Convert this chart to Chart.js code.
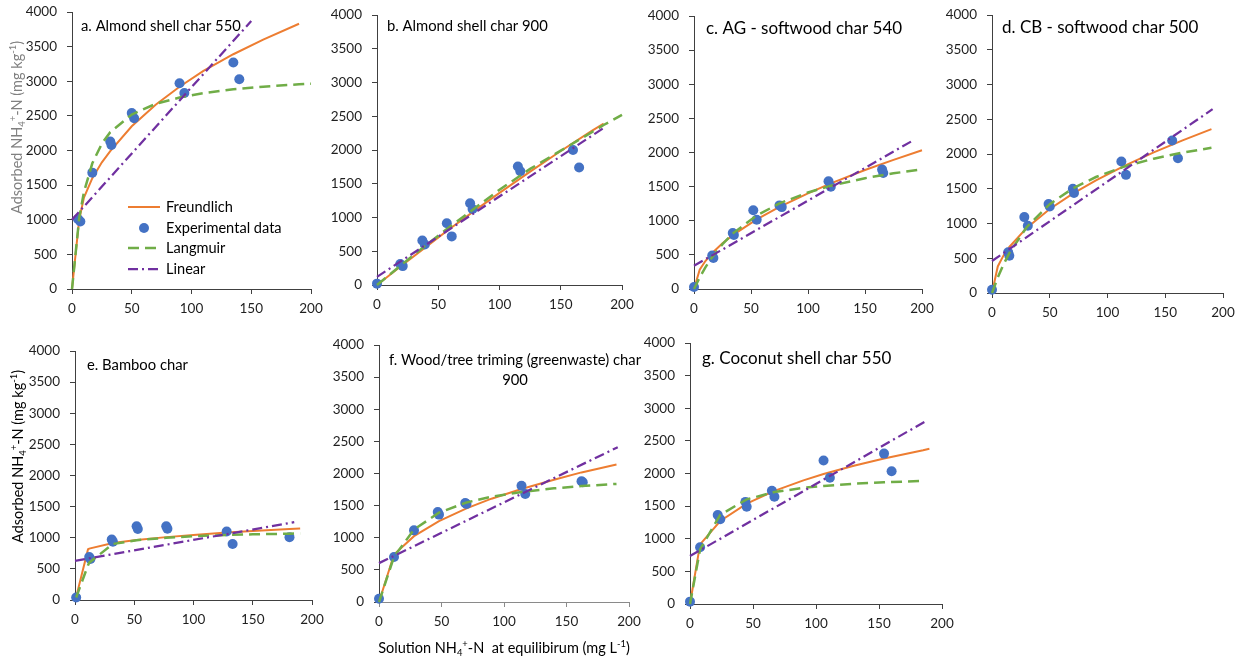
<!DOCTYPE html>
<html>
<head>
<meta charset="utf-8">
<script src="https://cdn.jsdelivr.net/npm/chart.js@4.4.1/dist/chart.umd.min.js"></script>
<style>
  html, body { margin: 0; padding: 0; background: #fff; }
  body { width: 1247px; height: 662px; position: relative; overflow: hidden; }
  canvas { position: absolute; }
</style>
</head>
<body>
<script>
// ---- a. Almond shell char 550 ----
const aExpX = [5, 7, 17, 32, 33, 50, 52, 90, 94, 135, 140];
const aExpY = [1010, 975, 1680, 2130, 2080, 2540, 2465, 2970, 2830, 3270, 3030];
const aFitX = [0, 6, 10, 17, 25, 32, 50, 70, 90, 110, 135, 160, 190, 200];
const aFreundlich = [0, 1000, 1320, 1600, 1830, 1990, 2350, 2660, 2920, 3150, 3390, 3600, 3830, null];
const aLangmuir = [0, 1022, 1400, 1815, 2100, 2265, 2520, 2673, 2765, 2829, 2883, 2922, 2956, 2965];
const aLinX = [0, 150];
const aLinear = [1000, 3870];

// ---- b. Almond shell char 900 ----
const bExpX = [0, 19, 21, 37, 39, 57, 61, 76, 78, 115, 117, 160, 165];
const bExpY = [20, 310, 280, 660, 600, 915, 720, 1210, 1125, 1755, 1685, 2000, 1740];
const bFitX = [0, 20, 40, 60, 80, 100, 125, 150, 175, 185, 200];
const bFreundlich = [0, 285, 565, 840, 1105, 1365, 1680, 1985, 2280, 2390, null];
const bLangmuir = [0, 300, 590, 870, 1140, 1410, 1720, 1990, 2260, 2370, 2520];
const bLinX = [0, 185];
const bLinear = [120, 2325];

// ---- c. AG - softwood char 540 ----
const cExpX = [0, 16, 17, 34, 35, 52, 55, 75, 77, 118, 120, 165, 166];
const cExpY = [30, 490, 455, 820, 790, 1155, 1015, 1225, 1200, 1580, 1500, 1750, 1700];
const cFitX = [0, 5, 10, 16, 25, 35, 55, 75, 100, 120, 150, 175, 200];
const cFreundlich = [0, 283, 410, 527, 670, 800, 1020, 1204, 1400, 1548, 1743, 1892, 2032];
const cLangmuir = [0, 170, 317, 469, 657, 826, 1077, 1254, 1415, 1512, 1624, 1695, 1752];
const cLinX = [0, 193];
const cLinear = [340, 2185];

// ---- d. CB - softwood char 500 ----
const dExpX = [0, 14, 15, 28, 31, 49, 50, 70, 71, 112, 116, 156, 161];
const dExpY = [48, 585, 535, 1092, 968, 1280, 1245, 1500, 1440, 1892, 1700, 2194, 1940];
const dFitX = [0, 5, 10, 15, 30, 50, 70, 90, 115, 140, 165, 190];
const dFreundlich = [0, 382, 541, 662, 937, 1209, 1431, 1622, 1834, 2023, 2197, 2357];
const dLangmuir = [0, 223, 412, 574, 947, 1279, 1505, 1669, 1821, 1933, 2020, 2089];
const dLinX = [0, 191];
const dLinear = [460, 2645];

// ---- e. Bamboo char ----
const eExpX = [1, 12, 13, 31, 32, 52, 53, 77, 78, 128, 133, 181];
const eExpY = [40, 690, 660, 970, 935, 1185, 1140, 1185, 1145, 1100, 900, 1010];
const eFitX = [1, 11, 12, 32, 52, 77, 100, 128, 150, 181, 190];
const eFreundlich = [50, 815, 825, 915, 965, 1010, 1045, 1085, 1110, 1140, 1150];
const eLangmuir = [40, 560, 600, 900, 960, 1000, 1025, 1045, 1055, 1065, 1070];
const eLinX = [0, 185];
const eLinear = [630, 1250];

// ---- f. Wood/tree triming (greenwaste) char 900 ----
const fExpX = [0, 12, 28, 47, 48, 69, 70, 114, 117, 162, 163];
const fExpY = [50, 700, 1115, 1400, 1360, 1540, 1525, 1810, 1680, 1880, 1865];
const fFitX = [0, 12, 28, 48, 70, 90, 114, 140, 162, 190];
const fFreundlich = [0, 739, 1025, 1260, 1457, 1608, 1758, 1902, 2017, 2139];
const fLangmuir = [0, 703, 1128, 1390, 1549, 1639, 1713, 1769, 1804, 1838];
const fLinX = [0, 191];
const fLinear = [605, 2410];

// ---- g. Coconut shell char 550 ----
const gExpX = [0, 8, 22, 24, 44, 45, 65, 67, 106, 111, 154, 160];
const gExpY = [36, 870, 1365, 1300, 1565, 1490, 1735, 1645, 2200, 1935, 2305, 2035];
const gFitX = [0, 8, 24, 45, 67, 90, 106, 130, 154, 185, 190];
const gFreundlich = [0, 913, 1272, 1538, 1734, 1895, 1992, 2118, 2230, 2357, 2380];
const gLangmuir = [0, 837, 1367, 1604, 1715, 1780, 1810, 1843, 1865, 1887, null];
const gLinX = [0, 186];
const gLinear = [735, 2790];

// axis ticks
const xTickStep = 50, xMax = 200;
const yTickStep = 500, yMax = 4000;

const FONT = "Lato, 'Open Sans', sans-serif";
const C_FRE = '#ED7D31', C_EXP = '#4472C4', C_LAN = '#70AD47', C_LIN = '#7030A0';
const AXIS = '#404040', TICK = '#1f1f1f';
const DASH_LAN = [11, 6], DASH_LIN = [10, 4, 2, 4];
const SMALL = 14.8, BIG = 17, TICK_SIZE = 13.5;

const Y_TITLE = [
  {t: 'Adsorbed NH'}, {t: '4', s: 'sub'}, {t: '+', s: 'sup'},
  {t: '-N (mg kg'}, {t: '-1', s: 'sup'}, {t: ')'}
];
const X_TITLE = [
  {t: 'Solution NH'}, {t: '4', s: 'sub'}, {t: '+', s: 'sup'},
  {t: '-N  at equilibirum (mg L'}, {t: '-1', s: 'sup'}, {t: ')'}
];

Chart.defaults.font.family = FONT;

const M = {left: 72, top: 14, right: 28, bottom: 40};
const YW = 50, XH = 30;

const panels = [
  {box: [72, 12, 311, 289], expX: aExpX, expY: aExpY, fitX: aFitX, fre: aFreundlich, lan: aLangmuir, linX: aLinX, lin: aLinear,
   title: ['a. Almond shell char 550'], tsize: SMALL, tdx: 9, tdy: 14,
   yTitle: {dx: -55, dy: 115.5, color: '#808080'}, legend: true},
  {box: [377, 15, 622, 285], expX: bExpX, expY: bExpY, fitX: bFitX, fre: bFreundlich, lan: bLangmuir, linX: bLinX, lin: bLinear,
   title: ['b. Almond shell char 900'], tsize: SMALL, tdx: 10, tdy: 11},
  {box: [694, 16, 922, 289], expX: cExpX, expY: cExpY, fitX: cFitX, fre: cFreundlich, lan: cLangmuir, linX: cLinX, lin: cLinear,
   title: ['c. AG - softwood char 540'], tsize: BIG, tdx: 12, tdy: 12.3},
  {box: [992, 15, 1223, 293], expX: dExpX, expY: dExpY, fitX: dFitX, fre: dFreundlich, lan: dLangmuir, linX: dLinX, lin: dLinear,
   title: ['d. CB - softwood char 500'], tsize: BIG, tdx: 10, tdy: 12.3},
  {box: [75, 351, 312, 600], expX: eExpX, expY: eExpY, fitX: eFitX, fre: eFreundlich, lan: eLangmuir, linX: eLinX, lin: eLinear,
   title: ['e. Bamboo char'], tsize: SMALL, tdx: 12, tdy: 14,
   yTitle: {dx: -57.3, dy: 105.5, color: '#000'}},
  {box: [379, 345, 629, 602], expX: fExpX, expY: fExpY, fitX: fFitX, fre: fFreundlich, lan: fLangmuir, linX: fLinX, lin: fLinear,
   title: ['f. Wood/tree triming (greenwaste) char', '900'], tsize: SMALL, align: 'center', tdx: 136, tdy: 15.7, gap: 20,
   xTitle: {dy: 46}, bottom: 62, xAxisColor: '#8a8a8a'},
  {box: [690, 343, 942, 604], expX: gExpX, expY: gExpY, fitX: gFitX, fre: gFreundlich, lan: gLangmuir, linX: gLinX, lin: gLinear,
   title: ['g. Coconut shell char 550'], tsize: BIG, tdx: 12, tdy: 15.3},
];

const pts = (xs, ys) => xs.map((x, i) => ({x: x, y: ys[i]}));

function segFont(s, size) {
  return (s.s ? size * 0.65 : size) + 'px ' + FONT;
}

function drawRich(ctx, segs, cx, cy, size) {
  let w = 0;
  for (const s of segs) { ctx.font = segFont(s, size); w += ctx.measureText(s.t).width; }
  let x = cx - w / 2;
  ctx.textAlign = 'left';
  ctx.textBaseline = 'alphabetic';
  for (const s of segs) {
    ctx.font = segFont(s, size);
    const dy = s.s === 'sub' ? size * 0.22 : s.s === 'sup' ? -size * 0.4 : 0;
    ctx.fillText(s.t, x, cy + size * 0.35 + dy);
    x += ctx.measureText(s.t).width;
  }
}

function textPlugin(p) {
  return {
    id: 'panelText',
    afterDraw(chart) {
      const {ctx, chartArea: ca} = chart;
      ctx.save();
      ctx.fillStyle = '#000';
      ctx.textBaseline = 'middle';
      ctx.textAlign = p.align || 'left';
      ctx.font = p.tsize + 'px ' + FONT;
      p.title.forEach((line, i) => {
        ctx.fillText(line, ca.left + p.tdx, ca.top + p.tdy + i * (p.gap || 0));
      });

      if (p.yTitle) {
        ctx.save();
        ctx.translate(ca.left + p.yTitle.dx, ca.top + p.yTitle.dy);
        ctx.rotate(-Math.PI / 2);
        ctx.fillStyle = p.yTitle.color;
        drawRich(ctx, Y_TITLE, 0, 0, 14.5);
        ctx.restore();
      }

      if (p.xTitle) {
        ctx.fillStyle = '#000';
        drawRich(ctx, X_TITLE, (ca.left + ca.right) / 2, ca.bottom + p.xTitle.dy, 14.5);
      }

      if (p.legend) {
        const ds = chart.data.datasets;
        const x0 = ca.left + 56, x1 = ca.left + 88, tx = ca.left + 94;
        const rows = [195, 216, 236, 257];
        ctx.font = '14.6px ' + FONT;
        ds.forEach((d, i) => {
          const y = ca.top + rows[i];
          if (d.showLine) {
            ctx.save();
            ctx.strokeStyle = d.borderColor;
            ctx.lineWidth = d.borderWidth;
            ctx.setLineDash(d.borderDash || []);
            ctx.beginPath();
            ctx.moveTo(x0, y);
            ctx.lineTo(x1, y);
            ctx.stroke();
            ctx.restore();
          } else {
            ctx.fillStyle = d.backgroundColor;
            ctx.beginPath();
            ctx.arc((x0 + x1) / 2, y, d.pointRadius, 0, Math.PI * 2);
            ctx.fill();
          }
          ctx.fillStyle = '#000';
          ctx.textAlign = 'left';
          ctx.textBaseline = 'middle';
          ctx.fillText(d.label, tx, y);
        });
      }
      ctx.restore();
    }
  };
}

function makePanel(p) {
  const bottom = p.bottom || M.bottom;
  const W = (p.box[2] - p.box[0]) + M.left + M.right;
  const H = (p.box[3] - p.box[1]) + M.top + bottom;
  const cv = document.createElement('canvas');
  cv.width = W;
  cv.height = H;
  cv.style.left = (p.box[0] - M.left) + 'px';
  cv.style.top = (p.box[1] - M.top) + 'px';
  cv.style.width = W + 'px';
  cv.style.height = H + 'px';
  document.body.appendChild(cv);

  const xColor = p.xAxisColor || AXIS;
  const plain = v => String(v);

  return new Chart(cv, {
    type: 'scatter',
    data: {
      datasets: [
        {label: 'Freundlich', data: pts(p.fitX, p.fre), showLine: true, spanGaps: true,
         borderColor: C_FRE, borderWidth: 2, pointRadius: 0, order: 3, clip: false},
        {label: 'Experimental data', data: pts(p.expX, p.expY), showLine: false,
         backgroundColor: C_EXP, borderWidth: 0, pointRadius: 5, order: 2, clip: false},
        {label: 'Langmuir', data: pts(p.fitX, p.lan), showLine: true, spanGaps: true,
         borderColor: C_LAN, borderWidth: 2.5, borderDash: DASH_LAN, pointRadius: 0, order: 1, clip: false},
        {label: 'Linear', data: pts(p.linX, p.lin), showLine: true,
         borderColor: C_LIN, borderWidth: 2.25, borderDash: DASH_LIN, pointRadius: 0, order: 0, clip: false},
      ]
    },
    options: {
      responsive: false,
      animation: false,
      devicePixelRatio: 1,
      layout: {padding: {left: M.left - YW, top: M.top, right: M.right, bottom: bottom - XH}},
      plugins: {legend: {display: false}, tooltip: {enabled: false}, title: {display: false}},
      scales: {
        x: {
          type: 'linear', min: 0, max: xMax,
          ticks: {stepSize: xTickStep, padding: 7, color: TICK, font: {size: TICK_SIZE}, autoSkip: false, maxRotation: 0, callback: plain},
          grid: {drawOnChartArea: false, drawTicks: true, tickLength: 5, color: xColor},
          border: {display: true, color: xColor, width: 1},
          afterFit(s) { s.height = XH; s.paddingLeft = 0; s.paddingRight = 0; }
        },
        y: {
          type: 'linear', min: 0, max: yMax,
          ticks: {stepSize: yTickStep, padding: 10, color: TICK, font: {size: TICK_SIZE}, autoSkip: false, callback: plain},
          grid: {drawOnChartArea: false, drawTicks: true, tickLength: 5, color: AXIS},
          border: {display: true, color: AXIS, width: 1},
          afterFit(s) { s.width = YW; s.paddingTop = 0; s.paddingBottom = 0; }
        }
      }
    },
    plugins: [textPlugin(p)]
  });
}

panels.forEach(makePanel);
</script>
</body>
</html>
